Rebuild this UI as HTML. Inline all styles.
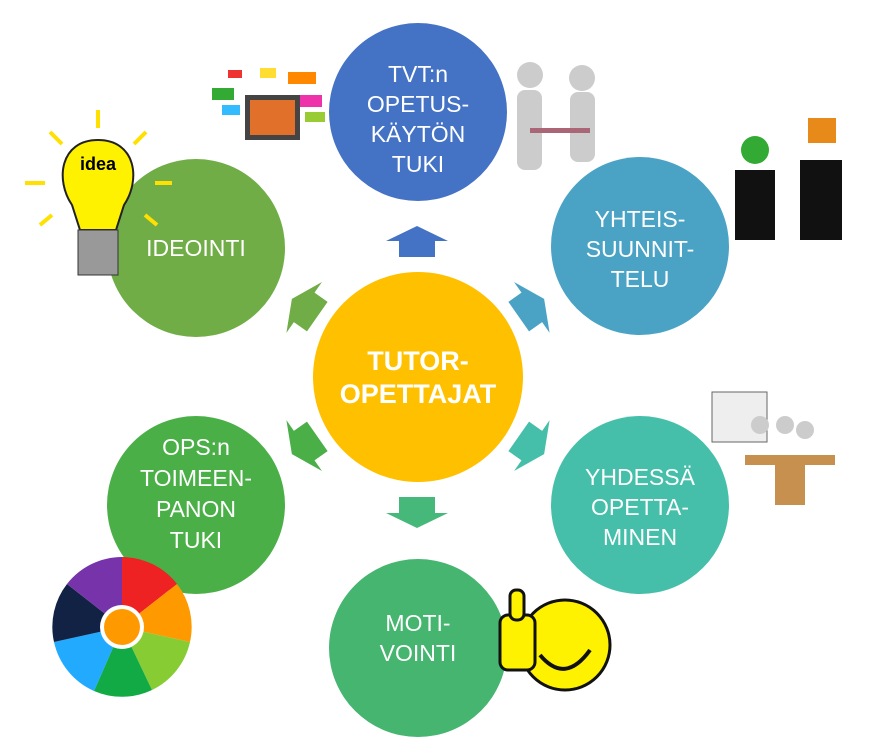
<!DOCTYPE html>
<html><head><meta charset="utf-8"><style>
body{margin:0;width:891px;height:747px;background:#fff;overflow:hidden}
svg{display:block}
text{font-family:"Liberation Sans",sans-serif;fill:#fff;text-anchor:middle}
</style></head><body>
<svg width="891" height="747" viewBox="0 0 891 747">
<defs><polygon id="ar" points="0,-16 31,-1 18,-1 18,15 -18,15 -18,-1 -31,-1"/></defs>
<!-- circles -->
<circle cx="418" cy="112" r="89" fill="#4472C4"/>
<circle cx="640" cy="246" r="89" fill="#4AA3C4"/>
<circle cx="640" cy="505" r="89" fill="#45BFA9"/>
<circle cx="418" cy="648" r="89" fill="#45B56F"/>
<circle cx="196" cy="505" r="89" fill="#4BAF48"/>
<circle cx="196" cy="248" r="89" fill="#70AD47"/>
<circle cx="418" cy="377" r="105" fill="#FFC000"/>
<!-- arrows -->
<use href="#ar" fill="#4472C4" transform="translate(417,242)"/>
<use href="#ar" fill="#45B87A" transform="translate(417,512) rotate(180)"/>
<use href="#ar" fill="#70AD47" transform="translate(305,308) rotate(-55)"/>
<use href="#ar" fill="#4AA3C4" transform="translate(531,308) rotate(55)"/>
<use href="#ar" fill="#4BAF48" transform="translate(305,445) rotate(-125)"/>
<use href="#ar" fill="#45BFA9" transform="translate(531,445) rotate(125)"/>
<!-- labels -->
<g font-size="23">
<text x="418" y="82">TVT:n</text><text x="418" y="112">OPETUS-</text><text x="418" y="142">KÄYTÖN</text><text x="418" y="172">TUKI</text>
<text x="640" y="227">YHTEIS-</text><text x="640" y="257">SUUNNIT-</text><text x="640" y="287">TELU</text>
<text x="640" y="485">YHDESSÄ</text><text x="640" y="515">OPETTA-</text><text x="640" y="545">MINEN</text>
<text x="418" y="631">MOTI-</text><text x="418" y="661">VOINTI</text>
<text x="196" y="455">OPS:n</text><text x="196" y="486">TOIMEEN-</text><text x="196" y="517">PANON</text><text x="196" y="548">TUKI</text>
<text x="196" y="256">IDEOINTI</text>
</g>
<g font-size="27" font-weight="bold"><text x="418" y="370">TUTOR-</text><text x="418" y="403">OPETTAJAT</text></g>
<!-- bulb -->
<g stroke="#FFE000" stroke-width="4">
<line x1="98" y1="110" x2="98" y2="128"/><line x1="50" y1="132" x2="62" y2="144"/><line x1="146" y1="132" x2="134" y2="144"/><line x1="25" y1="183" x2="45" y2="183"/><line x1="155" y1="183" x2="172" y2="183"/><line x1="40" y1="225" x2="52" y2="215"/><line x1="157" y1="225" x2="145" y2="215"/></g>
<path d="M98,140 C60,140 55,180 72,205 L80,230 L116,230 L124,205 C141,180 136,140 98,140Z" fill="#FFF200" stroke="#222" stroke-width="2"/>
<text x="98" y="170" font-size="18" font-weight="bold" style="fill:#000">idea</text>
<rect x="78" y="230" width="40" height="45" fill="#999" stroke="#333"/>
<!-- tablet / bubbles -->
<rect x="245" y="95" width="55" height="45" fill="#444"/><rect x="250" y="100" width="45" height="35" fill="#e0702a"/>
<rect x="228" y="70" width="14" height="8" fill="#e33"/><rect x="260" y="68" width="16" height="10" fill="#fd3"/><rect x="288" y="72" width="28" height="12" fill="#f80"/><rect x="212" y="88" width="22" height="12" fill="#3a3"/><rect x="222" y="105" width="18" height="10" fill="#3bf"/><rect x="300" y="95" width="22" height="12" fill="#e3a"/><rect x="305" y="112" width="20" height="10" fill="#9c3"/>
<!-- people -->
<g fill="#ccc"><circle cx="530" cy="75" r="13"/><rect x="517" y="90" width="25" height="80" rx="8"/><circle cx="582" cy="78" r="13"/><rect x="570" y="92" width="25" height="70" rx="8"/><rect x="530" y="128" width="60" height="5" fill="#a67"/></g>
<!-- suits -->
<g fill="#111"><rect x="735" y="170" width="40" height="70"/><rect x="800" y="160" width="42" height="80"/></g>
<circle cx="755" cy="150" r="14" fill="#3a3"/><rect x="808" y="118" width="28" height="25" fill="#e88a1a"/>
<!-- meeting -->
<rect x="712" y="392" width="55" height="50" fill="#eee" stroke="#666"/>
<g fill="#ccc"><circle cx="760" cy="425" r="9"/><circle cx="805" cy="430" r="9"/><circle cx="785" cy="425" r="9"/></g>
<rect x="745" y="455" width="90" height="10" fill="#c8904f"/><rect x="775" y="465" width="30" height="40" fill="#c8904f"/>
<!-- pie -->
<g transform="translate(122,627)">
<path d="M0,0 L0,-70 A70,70 0 0 1 55,-43Z" fill="#e22"/>
<path d="M0,0 L55,-43 A70,70 0 0 1 68,15Z" fill="#f90"/>
<path d="M0,0 L68,15 A70,70 0 0 1 30,63Z" fill="#8c3"/>
<path d="M0,0 L30,63 A70,70 0 0 1 -28,64Z" fill="#1a4"/>
<path d="M0,0 L-28,64 A70,70 0 0 1 -68,15Z" fill="#2af"/>
<path d="M0,0 L-68,15 A70,70 0 0 1 -55,-43Z" fill="#124"/>
<path d="M0,0 L-55,-43 A70,70 0 0 1 0,-70Z" fill="#73a"/>
<circle r="22" fill="#fff"/><circle r="18" fill="#f90"/>
</g>
<!-- smiley -->
<circle cx="565" cy="645" r="45" fill="#FFF200" stroke="#111" stroke-width="3"/>
<path d="M540,655 Q565,685 590,650" fill="none" stroke="#111" stroke-width="4"/>
<rect x="500" y="615" width="35" height="55" rx="8" fill="#FFF200" stroke="#111" stroke-width="3"/>
<rect x="510" y="590" width="14" height="30" rx="6" fill="#FFF200" stroke="#111" stroke-width="3"/>
</svg>
</body></html>
